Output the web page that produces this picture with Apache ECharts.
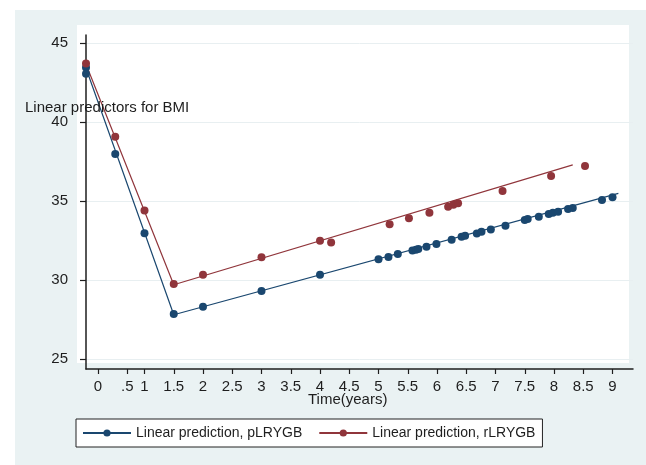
<!DOCTYPE html>
<html>
<head>
<meta charset="utf-8">
<script src="https://cdn.jsdelivr.net/npm/echarts@6/dist/echarts.min.js"></script>
<style>
  html, body { margin: 0; padding: 0; background: #fff; }
  #chart { width: 646px; height: 465px; }
</style>
</head>
<body>
<div id="chart"></div>
<script>
// points (time in years, linear predictor for BMI)
const pTime = [0, 0, 0.5, 1, 1.5, 2, 3, 4, 5, 5.17, 5.33, 5.58, 5.64, 5.68, 5.82, 5.99,
  6.25, 6.42, 6.48, 6.68, 6.76, 6.92, 7.17, 7.5, 7.55, 7.74, 7.91, 7.98, 8.07, 8.24, 8.32, 8.82, 9.0]
const pBmi = [43.45, 43.05, 37.97, 32.96, 27.85, 28.31, 29.3, 30.33, 31.31, 31.45, 31.64, 31.86, 31.92, 31.96, 32.1, 32.28,
  32.54, 32.73, 32.8, 32.95, 33.05, 33.2, 33.44, 33.8, 33.86, 34.0, 34.18, 34.26, 34.32, 34.49, 34.56, 35.06, 35.23]
const rTime = [0, 0.5, 1, 1.5, 2, 3, 4, 4.19, 5.19, 5.52, 5.87, 6.19, 6.28, 6.36, 7.12, 7.95, 8.53]
const rBmi = [43.7, 39.07, 34.39, 29.75, 30.34, 31.44, 32.49, 32.38, 33.53, 33.9, 34.26, 34.64, 34.76, 34.85, 35.63, 36.58, 37.22]

// fitted piecewise lines (knot at 1.5 years)
const pLineTime = [0, 1.5, 9.1]
const pLineBmi = [43.4, 27.8, 35.48]
const rLineTime = [0, 1.5, 8.32]
const rLineBmi = [43.65, 29.7, 37.28]

// tick labels
const yTicks = [25, 30, 35, 40, 45]
const xTicks = [1, 1.5, 2, 2.5, 3, 3.5, 4, 4.5, 5, 5.5, 6, 6.5, 7, 7.5, 8, 8.5, 9]
const xTicksShifted = [0, 0.5]   // the "0" and ".5" labels sit off their true spot in the original

const seriesNames = ['Linear prediction, pLRYGB', 'Linear prediction, rLRYGB']
const BLUE = '#1a476f'
const RED = '#90353b'
const FONT = 'Liberation Sans, Arial, sans-serif'
const INK = '#1e1e1e'

const zip = (a, b) => a.map((v, i) => [v, b[i]])

const chart = echarts.init(document.getElementById('chart'), null, { renderer: 'canvas' })

chart.setOption({
  backgroundColor: '#fff',
  animation: false,
  textStyle: { fontFamily: FONT },
  graphic: [
    { type: 'rect', z: -10, shape: { x: 15, y: 10, width: 631, height: 455 }, style: { fill: '#eaf2f3' }, silent: true },
    { type: 'rect', z: -9, shape: { x: 77, y: 25, width: 552, height: 338 }, style: { fill: '#fff' }, silent: true }
  ],
  title: [
    { text: 'Linear predictors for BMI', left: 25, top: 100, padding: 0,
      textStyle: { fontSize: 15, fontWeight: 'normal', color: INK, fontFamily: FONT } },
    { text: 'Time(years)', left: 308, top: 392, padding: 0,
      textStyle: { fontSize: 15, fontWeight: 'normal', color: INK, fontFamily: FONT } }
  ],
  grid: { left: 86, right: 13, top: 35, bottom: 96, outerBoundsMode: 'none' },
  legend: {
    data: seriesNames,
    left: 76,
    top: 419,
    itemWidth: 48,
    itemHeight: 9,
    itemGap: 16,
    padding: [7, 7, 7, 6],
    borderColor: '#222',
    borderWidth: 1,
    backgroundColor: '#fff',
    textStyle: { fontSize: 14, color: INK, fontFamily: FONT }
  },
  xAxis: [
    {
      type: 'value', position: 'bottom', min: 0, max: 9.35,
      axisLine: { lineStyle: { color: INK, width: 1.5 } },
      axisTick: { customValues: xTicks, length: 5, lineStyle: { color: INK, width: 1.2 } },
      axisLabel: { customValues: xTicks, margin: 10, fontSize: 15, color: INK, fontFamily: FONT,
        formatter: v => String(v) },
      splitLine: { show: false }
    },
    {
      type: 'value', position: 'bottom', min: -0.205, max: 9.145,
      axisLine: { show: false },
      axisTick: { customValues: xTicksShifted, length: 5, lineStyle: { color: INK, width: 1.2 } },
      axisLabel: { customValues: xTicksShifted, margin: 10, fontSize: 15, color: INK, fontFamily: FONT,
        formatter: v => (v === 0 ? '0' : '.5') },
      splitLine: { show: false }
    }
  ],
  yAxis: {
    type: 'value', min: 24.37, max: 45.5,
    axisLine: { show: true, lineStyle: { color: INK, width: 1.5 } },
    axisTick: { show: true, customValues: yTicks, length: 6, lineStyle: { color: INK, width: 1.2 } },
    axisLabel: { customValues: yTicks, margin: 18, fontSize: 15, color: INK, fontFamily: FONT },
    splitLine: { show: true, lineStyle: { color: '#e8eff1', width: 1 } }
  },
  series: [
    {
      name: seriesNames[0], type: 'line', xAxisIndex: 0, clip: false,
      data: zip(pLineTime, pLineBmi),
      symbol: 'circle', showSymbol: false,
      itemStyle: { color: BLUE },
      lineStyle: { color: BLUE, width: 1.2 },
      z: 2
    },
    {
      name: seriesNames[1], type: 'line', xAxisIndex: 0, clip: false,
      data: zip(rLineTime, rLineBmi),
      symbol: 'circle', showSymbol: false,
      itemStyle: { color: RED },
      lineStyle: { color: RED, width: 1.2 },
      z: 2
    },
    {
      name: 'pLRYGB points', type: 'scatter', xAxisIndex: 0, clip: false,
      data: zip(pTime, pBmi),
      symbolSize: 8,
      itemStyle: { color: BLUE, opacity: 1 },
      z: 3
    },
    {
      name: 'rLRYGB points', type: 'scatter', xAxisIndex: 0, clip: false,
      data: zip(rTime, rBmi),
      symbolSize: 8,
      itemStyle: { color: RED, opacity: 1 },
      z: 3
    }
  ]
})
</script>
</body>
</html>
